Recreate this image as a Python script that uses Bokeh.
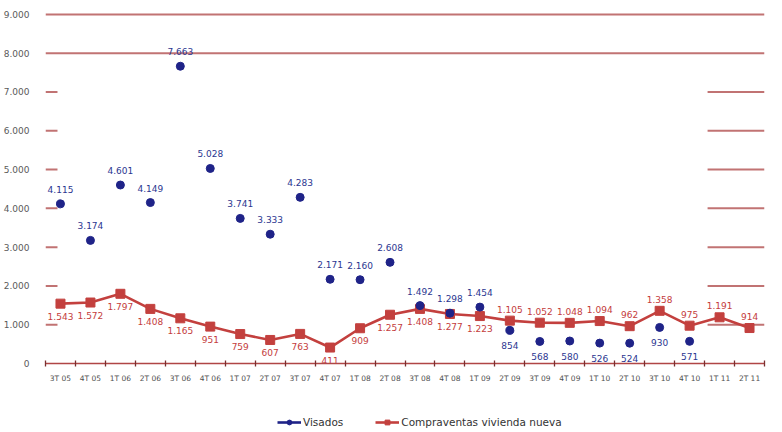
from bokeh.plotting import figure
from bokeh.layouts import column
from bokeh.models import (Range1d, LinearAxis, FixedTicker,
                          ColumnDataSource, Legend, LegendItem, CustomJSTickFormatter)
from bokeh.core.properties import value
from bokeh.embed import file_html
from bokeh.resources import INLINE

periods = ["3T 05", "4T 05", "1T 06", "2T 06", "3T 06", "4T 06", "1T 07", "2T 07",
           "3T 07", "4T 07", "1T 08", "2T 08", "3T 08", "4T 08", "1T 09", "2T 09",
           "3T 09", "4T 09", "1T 10", "2T 10", "3T 10", "4T 10", "1T 11", "2T 11"]
visados = [4115, 3174, 4601, 4149, 7663, 5028, 3741, 3333, 4283, 2171, 2160, 2608,
           1492, 1298, 1454, 854, 568, 580, 526, 524, 930, 571, None, None]
compraventas = [1543, 1572, 1797, 1408, 1165, 951, 759, 607, 763, 411, 909, 1257,
                1408, 1277, 1223, 1105, 1052, 1048, 1094, 962, 1358, 975, 1191, 914]
y_ticks = [0, 1000, 2000, 3000, 4000, 5000, 6000, 7000, 8000, 9000]

NAVY = "#1f2388"
NAVY_TXT = "#2b3690"
RED = "#c3403e"
RED_TXT = "#c43c3c"
GRID = "#b65a5a"
FONT = "DejaVu Sans"

n = len(periods)
xc = [i + 0.5 for i in range(n)]  # category centres on the linear scale


def fmt(v):
    return f"{v:,}".replace(",", ".")


p = figure(width=766, height=393, output_backend="svg", toolbar_location=None,
           x_range=Range1d(0, n), y_range=Range1d(0, 9100),
           x_axis_location=None, min_border_left=37, min_border_right=2,
           min_border_top=10, min_border_bottom=30)
p.outline_line_color = None
p.xgrid.visible = False
p.ygrid.visible = False

# y axis
p.yaxis.ticker = FixedTicker(ticks=y_ticks)
p.yaxis.formatter = CustomJSTickFormatter(
    code="return tick.toFixed(0).replace(/\\B(?=(\\d{3})+(?!\\d))/g, '.');")
p.yaxis.axis_line_color = None
p.yaxis.major_tick_line_color = None
p.yaxis.minor_tick_line_color = None
p.yaxis.major_label_standoff = 10
p.yaxis.major_label_text_font = FONT
p.yaxis.major_label_text_font_size = "9px"
p.yaxis.major_label_text_color = "#5a5a5a"

# horizontal grid lines (partly hidden in the middle as in the reference)
gx0, gx1, gy = [], [], []
for t in y_ticks[1:]:
    if t >= 8000:
        gx0.append(0); gx1.append(n); gy.append(t)
    else:
        gx0 += [0, 22.1]; gx1 += [0.4, n]; gy += [t, t]
p.segment(x0=gx0, y0=gy, x1=gx1, y1=gy, line_color=GRID, line_width=2, line_alpha=0.85)

# x axis: boundary ticks + category labels
edge_axis = LinearAxis(ticker=FixedTicker(ticks=list(range(n + 1))),
                       major_label_overrides={i: "" for i in range(n + 1)},
                       major_label_text_font_size="1px", major_label_standoff=0,
                       axis_line_color="#b04646", axis_line_width=1.6,
                       major_tick_line_color="#7a2f2f", major_tick_line_width=1.3,
                       major_tick_in=3, major_tick_out=3,
                       minor_tick_line_color=None)
p.add_layout(edge_axis, "below")
cat_axis = LinearAxis(ticker=FixedTicker(ticks=xc),
                      major_label_overrides={x: lab for x, lab in zip(xc, periods)},
                      axis_line_color=None, major_tick_line_color=None,
                      minor_tick_line_color=None,
                      major_label_text_font=FONT, major_label_text_font_size="7.5px",
                      major_label_text_color="#505050", major_label_standoff=1)
p.add_layout(cat_axis, "below")

# data
vi = [i for i, v in enumerate(visados) if v is not None]
src_v = ColumnDataSource(dict(x=[xc[i] for i in vi], y=[visados[i] for i in vi]))
src_c = ColumnDataSource(dict(x=xc, y=compraventas))

p.line("x", "y", source=src_c, line_color=RED, line_width=2.6)
p.scatter("x", "y", source=src_c, marker="square", size=9,
          fill_color=RED, line_color=RED)
p.scatter("x", "y", source=src_v, marker="circle", size=8,
          fill_color=NAVY, line_color=NAVY)

# labels: above / below depending on the relative position of the two series
v_up = [i for i in vi if visados[i] > compraventas[i]]
v_dn = [i for i in vi if visados[i] <= compraventas[i]]
c_dn = [i for i in range(n) if visados[i] is not None and visados[i] > compraventas[i]]
c_up = [i for i in range(n) if i not in c_dn]


def lab(idx, vals, color, off, baseline):
    s = ColumnDataSource(dict(x=[xc[i] for i in idx], y=[vals[i] for i in idx],
                              t=[fmt(vals[i]) for i in idx]))
    p.text("x", "y", text="t", source=s, y_offset=off, text_align="center",
           text_baseline=baseline, text_font=value(FONT), text_font_size="9px",
           text_color=color)


lab(v_up, visados, NAVY_TXT, -11, "bottom")
lab(v_dn, visados, NAVY_TXT, 12, "top")
lab(c_up, compraventas, RED_TXT, -8, "bottom")
lab(c_dn, compraventas, RED_TXT, 9, "top")

# legend strip below the chart (series redrawn out of view so the keys render)
lf = figure(width=766, height=35, output_backend="svg", toolbar_location=None,
            x_range=Range1d(0, 1), y_range=Range1d(-20000, -10000),
            x_axis_location=None, y_axis_location=None,
            min_border_left=0, min_border_right=0, min_border_top=0, min_border_bottom=0)
lf.outline_line_color = None
lf.xgrid.visible = False
lf.ygrid.visible = False
kv_line = lf.line("x", "y", source=src_v, line_color=NAVY, line_width=2.6)
kv_dot = lf.scatter("x", "y", source=src_v, marker="circle", size=7,
                    fill_color=NAVY, line_color=NAVY)
kc_line = lf.line("x", "y", source=src_c, line_color=RED, line_width=2.6)
kc_sq = lf.scatter("x", "y", source=src_c, marker="square", size=8,
                   fill_color=RED, line_color=RED)

legend = Legend(items=[LegendItem(label="Visados", renderers=[kv_line, kv_dot]),
                       LegendItem(label="Compraventas vivienda nueva", renderers=[kc_line, kc_sq])],
                orientation="horizontal", location=(232, 0), border_line_color=None,
                background_fill_alpha=0, margin=0, padding=2, spacing=32,
                glyph_width=24, glyph_height=12, label_height=12,
                label_text_font=FONT, label_text_font_size="10.5px",
                label_text_color="#333333", label_standoff=2)
lf.add_layout(legend, "center")

open("out.html", "w").write(file_html(column(p, lf), INLINE))
